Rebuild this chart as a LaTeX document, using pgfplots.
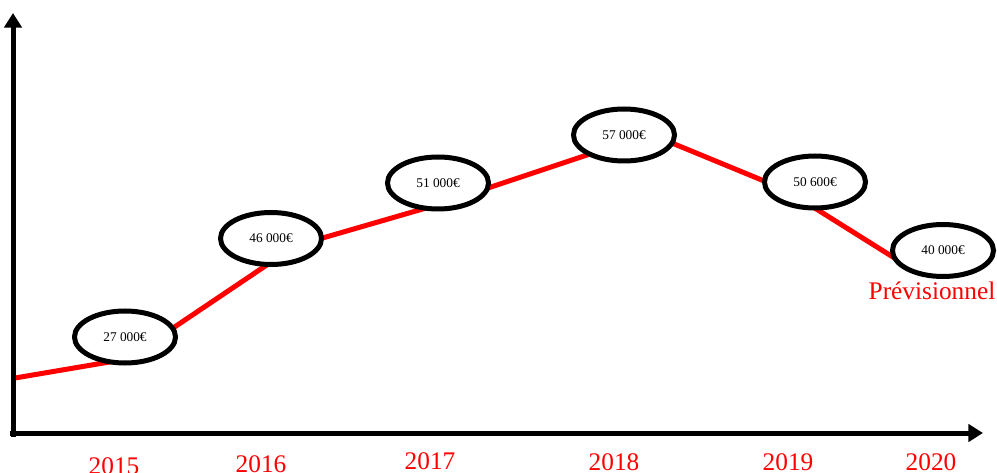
\documentclass[border=0pt]{standalone}
\usepackage{fontspec}
\setmainfont{Liberation Serif}
\usepackage{pgfplots}
\pgfplotsset{compat=1.18}
\usetikzlibrary{arrows.meta,shapes.geometric}

% 1 px of the reference = 0.75pt
\begin{document}
\begin{tikzpicture}
\useasboundingbox (0,0) rectangle (747.75pt,354pt);
\begin{axis}[
    at={(0,0)}, anchor=south west,
    scale only axis,
    width=747.75pt, height=354pt,
    xmin=0, xmax=997, ymin=0, ymax=472,
    hide axis, clip=false,
]
% trend line (vertices sit behind the ellipses)
\addplot[red, line width=3.75pt, mark=none] coordinates {
    (15,94) (127,113) (295,226) (440,268) (650,338) (786,282) (912,203)
};
% yearly amounts
\addplot[black, draw=none, mark=none,
    point meta=explicit symbolic,
    nodes near coords,
    every node near coord/.append style={
        anchor=center, ellipse, draw=black, fill=white, text=black,
        line width=3.75pt, minimum width=75.75pt, minimum height=39pt,
        inner sep=0pt, font=\fontsize{10}{12}\selectfont},
] coordinates {
    (125,135)   [27 000€]
    (271,233.5) [46 000€]
    (438,289)   [51 000€]
    (624,337)   [57 000€]
    (815,290)   [50 600€]
    (943,221.5) [40 000€]
};
% axes
\draw[line width=3.75pt, -{Triangle[length=11pt,width=13pt]}]
    (axis cs:13,35) -- (axis cs:13,459);
\draw[line width=3.75pt, -{Triangle[length=11pt,width=13pt]}]
    (axis cs:10,39) -- (axis cs:983,39);
% year labels
\begin{scope}[every node/.style={red, anchor=base, inner sep=0pt,
    font=\fontsize{19}{22}\selectfont}]
\node at (axis cs:114,-2) {2015};
\node at (axis cs:261,0) {2016};
\node at (axis cs:430,3) {2017};
\node at (axis cs:614,2) {2018};
\node at (axis cs:788,2) {2019};
\node at (axis cs:931,2) {2020};
\node at (axis cs:932,172) {Prévisionnel};
\end{scope}
\end{axis}
\end{tikzpicture}
\end{document}
